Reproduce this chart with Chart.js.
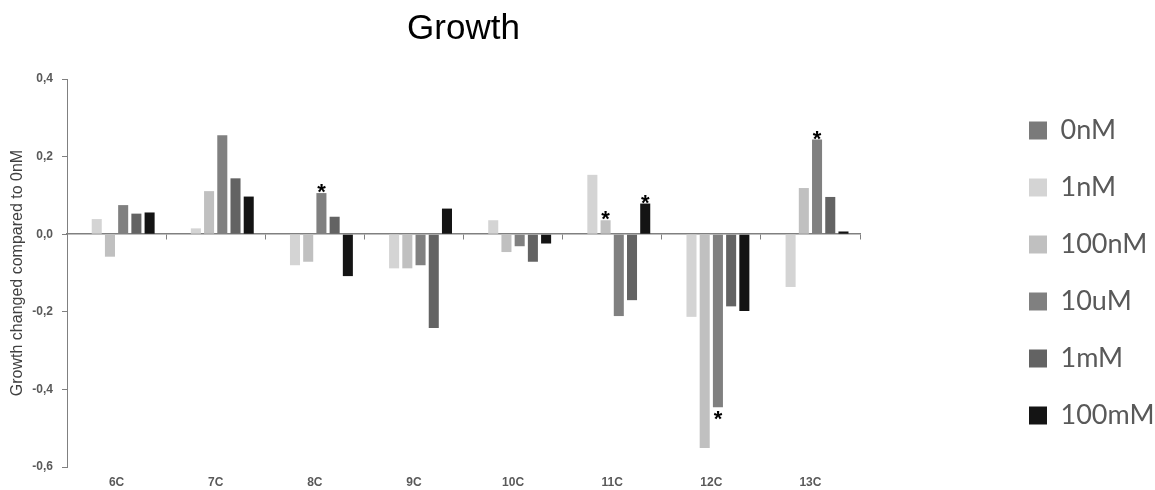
<!DOCTYPE html>
<html>
<head>
<meta charset="utf-8">
<title>Growth</title>
<script src="https://cdn.jsdelivr.net/npm/chart.js@4.4.1/dist/chart.umd.min.js"></script>
<style>
  html, body { margin: 0; padding: 0; background: #fff; }
  #wrap { width: 1155px; height: 490px; }
</style>
</head>
<body>
<div id="wrap"><canvas id="myChart"></canvas></div>
<script>
// data
const categories = ['6C', '7C', '8C', '9C', '10C', '11C', '12C', '13C'];
const seriesNames = ['0nM', '1nM', '100nM', '10uM', '1mM', '100mM'];

const val0nM   = [0, 0, 0, 0, 0, 0, 0, 0];
const val1nM   = [0.039, 0.015, -0.080, -0.088, 0.036, 0.153, -0.213, -0.136];
const val100nM = [-0.058, 0.111, -0.071, -0.088, -0.046, 0.036, -0.551, 0.119];
const val10uM  = [0.075, 0.255, 0.106, -0.080, -0.031, -0.211, -0.446, 0.244];
const val1mM   = [0.053, 0.144, 0.045, -0.242, -0.071, -0.170, -0.186, 0.096];
const val100mM = [0.056, 0.097, -0.108, 0.066, -0.024, 0.079, -0.198, 0.007];

// significance marks (*) per series
const star0nM   = [0, 0, 0, 0, 0, 0, 0, 0];
const star1nM   = [0, 0, 0, 0, 0, 0, 0, 0];
const star100nM = [0, 0, 0, 0, 0, 1, 0, 0];
const star10uM  = [0, 0, 1, 0, 0, 0, 1, 1];
const star1mM   = [0, 0, 0, 0, 0, 0, 0, 0];
const star100mM = [0, 0, 0, 0, 0, 1, 0, 0];

const yTicks = [-0.6, -0.4, -0.2, 0.0, 0.2, 0.4];

const allValues = [val0nM, val1nM, val100nM, val10uM, val1mM, val100mM];
const allStars = [star0nM, star1nM, star100nM, star10uM, star1mM, star100mM];
const colors = ['#7a7a7a', '#d4d4d4', '#c0c0c0', '#808080', '#636363', '#141414'];

Chart.defaults.font.family = "'Liberation Sans', Arial, sans-serif";
Chart.defaults.color = '#595959';

const starPlugin = {
  id: 'stars',
  afterDatasetsDraw(chart) {
    const ctx = chart.ctx;
    const fs = 22;
    ctx.save();
    ctx.font = 'bold ' + fs + 'px "Liberation Sans", Arial, sans-serif';
    ctx.fillStyle = '#000';
    ctx.textAlign = 'center';
    ctx.textBaseline = 'alphabetic';
    chart.data.datasets.forEach((ds, d) => {
      const meta = chart.getDatasetMeta(d);
      allStars[d].forEach((s, i) => {
        if (!s) return;
        const bar = meta.data[i];
        if (ds.data[i] >= 0) {
          ctx.fillText('*', bar.x, bar.y - 3 + 0.42 * fs);
        } else {
          ctx.fillText('*', bar.x, bar.y + 3 + 0.72 * fs);
        }
      });
    });
    ctx.restore();
  }
};

const ctx = document.getElementById('myChart').getContext('2d');

const myChart = new Chart(ctx, {
  type: 'bar',
  data: {
    labels: categories,
    datasets: seriesNames.map((name, k) => ({
      label: name,
      data: allValues[k],
      backgroundColor: colors[k],
      borderWidth: 0,
      categoryPercentage: 0.8,
      barPercentage: 0.76
    }))
  },
  options: {
    responsive: true,
    maintainAspectRatio: false,
    animation: false,
    layout: { padding: 0 },
    scales: {
      x: {
        type: 'category',
        position: 'bottom',
        offset: true,
        grid: { display: false, drawTicks: false },
        border: { display: false },
        ticks: {
          padding: 8,
          font: { size: 12, weight: 'bold' },
          color: '#595959'
        },
        afterFit(scale) { scale.height = 23; }
      },
      x2: {
        type: 'category',
        axis: 'x',
        labels: categories,
        position: { y: 0 },
        offset: true,
        grid: {
          offset: true,
          drawOnChartArea: false,
          drawTicks: true,
          tickLength: 5,
          color: '#808080'
        },
        border: { display: true, color: '#808080', width: 1.5 },
        ticks: { display: false }
      },
      y: {
        min: -0.6,
        max: 0.4,
        afterBuildTicks(scale) {
          scale.ticks = yTicks.map(v => ({ value: v }));
        },
        grid: {
          drawOnChartArea: false,
          drawTicks: true,
          tickLength: 5,
          color: '#808080'
        },
        border: { display: true, color: '#808080', width: 1 },
        ticks: {
          padding: 9,
          font: { size: 12, weight: 'bold' },
          color: '#595959',
          callback: v => v.toFixed(1).replace('.', ',')
        },
        title: {
          display: true,
          text: 'Growth changed compared to 0nM',
          font: { size: 16 },
          color: '#404040',
          padding: { top: 8, bottom: 0 }
        },
        afterFit(scale) { scale.width = 67; }
      },
      spacer: {
        type: 'linear',
        axis: 'y',
        position: 'right',
        display: true,
        grid: { display: false },
        border: { display: false },
        ticks: { display: false },
        afterFit(scale) { scale.width = 139; }
      }
    },
    plugins: {
      title: {
        display: true,
        text: 'Growth',
        fullSize: false,
        color: '#000',
        font: { size: 35, weight: 'normal' },
        padding: { top: 8, bottom: 29 }
      },
      legend: {
        display: true,
        position: 'right',
        fullSize: false,
        maxWidth: 156,
        labels: {
          boxWidth: 18,
          boxHeight: 18,
          padding: 30,
          color: '#595959',
          font: { family: 'Lato', size: 27 }
        }
      },
      tooltip: { enabled: false }
    }
  },
  plugins: [starPlugin]
});
</script>
</body>
</html>
